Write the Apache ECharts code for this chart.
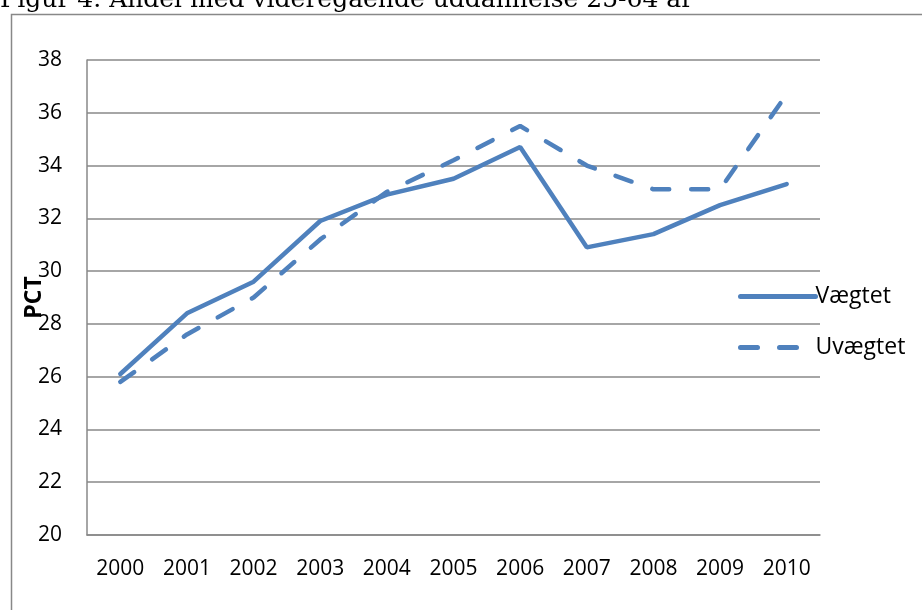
<!DOCTYPE html>
<html>
<head>
<meta charset="utf-8">
<script src="https://cdn.jsdelivr.net/npm/echarts@6/dist/echarts.min.js"></script>
<style>html,body{margin:0;padding:0;background:#fff;}#c{width:922px;height:610px;}</style>
</head>
<body>
<div id="c"></div>
<script>
const years = ['2000','2001','2002','2003','2004','2005','2006','2007','2008','2009','2010'];
const vaegtet = [26.1, 28.4, 29.6, 31.9, 32.9, 33.5, 34.7, 30.9, 31.4, 32.5, 33.3];
const uvaegtet = [25.8, 27.6, 29.0, 31.2, 33.0, 34.2, 35.5, 34.0, 33.1, 33.1, 36.7];
const titleText = 'Figur 4. Andel med videregående uddannelse 25-64 år';
const yName = 'PCT';

const chart = echarts.init(document.getElementById('c'), null, {renderer: 'canvas'});
const blue = '#4F81BD';
const labelFont = {fontFamily: 'Open Sans', fontSize: 21, color: '#000'};
chart.setOption({
  animation: false,
  graphic: [
    {type: 'rect', shape: {x: 11.5, y: 14.5, width: 920, height: 700}, style: {fill: 'none', stroke: '#888', lineWidth: 1.5}, z: -1},
    {type: 'text', left: 0, top: -12, style: {text: titleText, font: '25px "DejaVu Serif"', fill: '#000'}}
  ],
  grid: {left: 87, right: 102, top: 60, bottom: 75, outerBoundsMode: 'none', containLabel: false},
  legend: {
    orient: 'vertical', left: 733, top: 280, itemWidth: 75, itemHeight: 14, itemGap: 28,
    itemStyle: {opacity: 0},
    lineStyle: {width: 5},
    textStyle: {fontFamily: 'Open Sans', fontSize: 23, lineHeight: 20, color: '#000', padding: [0, 0, 0, -5]},
    data: ['Vægtet', 'Uvægtet']
  },
  xAxis: {
    type: 'category', data: years, boundaryGap: true,
    axisLine: {show: true, lineStyle: {color: '#888', width: 1.5}},
    axisTick: {show: false},
    axisLabel: Object.assign({margin: 24}, labelFont)
  },
  yAxis: {
    type: 'value', min: 20, max: 38, interval: 2,
    name: yName, nameLocation: 'middle', nameGap: 41, nameRotate: 90, nameMoveOverlap: false,
    nameTextStyle: {fontFamily: 'Open Sans', fontSize: 23, fontWeight: 'bold', color: '#000'},
    axisLine: {show: true, lineStyle: {color: '#888', width: 1.5}},
    axisTick: {show: false},
    splitLine: {show: true, lineStyle: {color: '#888', width: 1.5}},
    axisLabel: Object.assign({margin: 25}, labelFont)
  },
  series: [
    {name: 'Vægtet', type: 'line', data: vaegtet, symbol: 'none', color: blue,
     lineStyle: {color: blue, width: 4.5, cap: 'round'}},
    {name: 'Uvægtet', type: 'line', data: uvaegtet, symbol: 'none', color: blue,
     lineStyle: {color: blue, width: 4.5, type: [17, 22], cap: 'round'}}
  ]
});
</script>
</body>
</html>
